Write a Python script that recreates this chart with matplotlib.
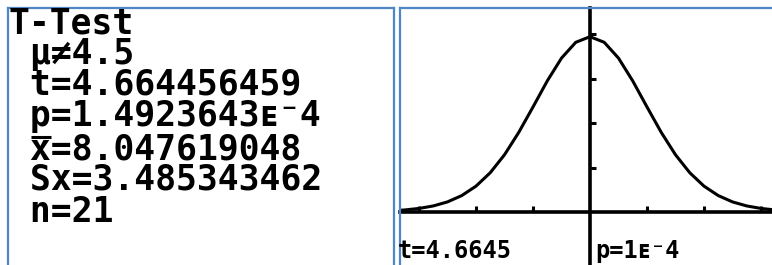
import matplotlib
matplotlib.use('Agg')
import matplotlib.pyplot as plt
from matplotlib.lines import Line2D

# ---- data ----
result_lines = ["T-Test", " μ≠4.5", " t=4.664456459", " p=1.4923643ᴇ⁻4",
                " x=8.047619048", " Sx=3.485343462", " n=21"]
t_label = "t=4.6645"
p_label = "p=1ᴇ⁻4"

curve_x = [-3.5, -3.25, -3.0, -2.75, -2.5, -2.25, -2.0, -1.75, -1.5, -1.25, -1.0,
           -0.75, -0.5, -0.25, 0.0, 0.25, 0.5, 0.75, 1.0, 1.25, 1.5, 1.75, 2.0,
           2.25, 2.5, 2.75, 3.0, 3.25, 3.5]
curve_y = [0.0026, 0.0046, 0.0080, 0.0136, 0.0227, 0.0369, 0.0581, 0.0883, 0.1286,
           0.1789, 0.2360, 0.2945, 0.3458, 0.3813, 0.3940, 0.3813, 0.3458, 0.2945,
           0.2360, 0.1789, 0.1286, 0.0883, 0.0581, 0.0369, 0.0227, 0.0136, 0.0080,
           0.0046, 0.0026]
x_ticks = [-3, -2, -1, 1, 2, 3]
y_ticks = [0.1, 0.2, 0.3, 0.4]

W, H = 772, 265
fig = plt.figure(figsize=(W / 100, H / 100), dpi=100)

def fx(px):
    return px / W

def fy(py):
    return 1 - py / H

mono = ['DejaVu Sans Mono', 'DejaVu Sans']
border = '#4f86c6'

# ---- left panel: test results ----
baselines = [33, 64, 95, 126, 159, 190, 222]
for s, b in zip(result_lines, baselines):
    fig.text(fx(9), fy(b), s, family=mono, fontsize=25, fontweight='bold',
             va='baseline', ha='left', color='black')
# bar over the x of the mean line
fig.add_artist(Line2D([fx(31), fx(51)], [fy(137), fy(137)], color='black', lw=2.2,
                      solid_capstyle='butt', transform=fig.transFigure))

# ---- right panel: t-distribution graph ----
axR = fig.add_axes([fx(400), 0, 1 - fx(400), fy(8)])
x_per_unit = 57.0
y_per_unit = 445.0
axR.set_xlim((400 - 590) / x_per_unit, (772 - 590) / x_per_unit)
axR.set_ylim(-(265 - 212) / y_per_unit, (212 - 8) / y_per_unit)
axR.plot(curve_x, curve_y, color='black', lw=2.2, solid_capstyle='butt', zorder=3)

for side in ['top', 'right']:
    axR.spines[side].set_visible(False)
axR.spines['bottom'].set_position(('data', 0))
axR.spines['left'].set_position(('data', 0))
for side in ['bottom', 'left']:
    axR.spines[side].set_linewidth(2.6)
    axR.spines[side].set_color('black')
axR.set_xticks(x_ticks)
axR.set_yticks(y_ticks)
axR.tick_params(axis='both', direction='in', length=4.5, width=2.2, color='black',
                labelbottom=False, labelleft=False)
axR.patch.set_alpha(0)

fig.text(fx(398), fy(258), t_label, family=mono, fontsize=17, fontweight='bold',
         va='baseline', ha='left')
fig.text(fx(595), fy(258), p_label, family=mono, fontsize=17, fontweight='bold',
         va='baseline', ha='left')

# ---- panel borders ----
def seg(x0, y0, x1, y1):
    fig.add_artist(Line2D([fx(x0), fx(x1)], [fy(y0), fy(y1)], color=border, lw=1.6,
                          transform=fig.transFigure))

seg(8, 8, 394, 8)
seg(8, 8, 8, 265)
seg(394, 8, 394, 265)
seg(400, 8, 772, 8)
seg(400, 8, 400, 265)

fig.savefig('out.png', dpi=100)
